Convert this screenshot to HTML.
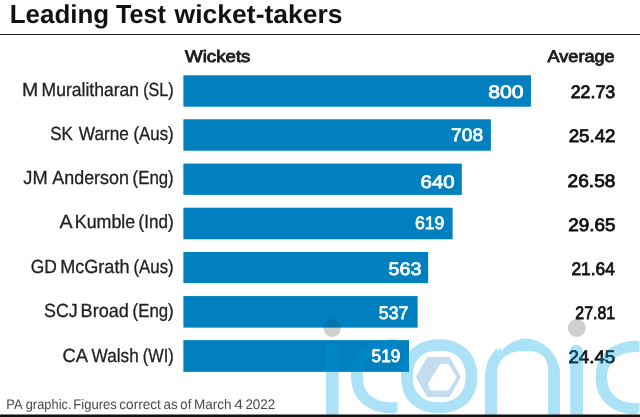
<!DOCTYPE html>
<html lang="en"><head><meta charset="utf-8"><title>Leading Test wicket-takers</title>
<style>
html,body{margin:0;padding:0;background:#fff;}
body{width:640px;height:417px;overflow:hidden;font-family:"Liberation Sans",Arial,Helvetica,sans-serif;}
svg{display:block;}
</style></head><body>
<svg width="640" height="417" viewBox="0 0 640 417" font-family="'Liberation Sans', Arial, Helvetica, sans-serif" text-rendering="geometricPrecision">
<defs>
<filter id="mono" x="-20%" y="-20%" width="140%" height="140%" color-interpolation-filters="sRGB">
<feOffset in="SourceGraphic" dx="-1.75" result="l"/><feOffset in="SourceGraphic" dx="1.75" result="r"/>
<feComposite in="l" in2="r" operator="in" result="e"/>
<feOffset in="e" dy="-1.0" result="u"/><feOffset in="e" dy="1.0" result="d"/>
<feMerge><feMergeNode in="u"/><feMergeNode in="d"/><feMergeNode in="e"/></feMerge>
</filter>
<clipPath id="cw"><rect x="0" y="336" width="640" height="78.5"/></clipPath>
<clipPath id="ci1"><rect x="325.5" y="343" width="13.5" height="80" rx="6.5"/></clipPath>
<clipPath id="ci2"><rect x="569.5" y="345" width="13.8" height="80" rx="6.5"/></clipPath>
<clipPath id="cc1"><rect x="345" y="336" width="52.5" height="78.5" rx="5"/></clipPath>
<clipPath id="cc2"><rect x="590" y="336" width="49.5" height="78.5" rx="5"/></clipPath>
<clipPath id="cn"><rect x="485" y="338" width="75.4" height="120" rx="37.7"/></clipPath>
</defs>
<rect width="640" height="417" fill="#fff"/>
<g fill="#0080be">
<rect x="183.5" y="75.40" width="347.40" height="31.20"/>
<rect x="183.5" y="119.40" width="307.30" height="31.20"/>
<rect x="183.5" y="163.70" width="278.20" height="31.10"/>
<rect x="183.5" y="207.80" width="269.00" height="31.40"/>
<rect x="183.5" y="252.00" width="244.60" height="31.10"/>
<rect x="183.5" y="296.10" width="234.00" height="31.40"/>
<rect x="183.5" y="340.20" width="225.50" height="31.60"/>
</g>
<text y="23.40" font-size="26" font-weight="bold" fill="#111"><tspan x="9.76" textLength="99.47" lengthAdjust="spacingAndGlyphs">Leading</tspan> <tspan x="115.98" textLength="49.82" lengthAdjust="spacingAndGlyphs">Test</tspan> <tspan x="174.58" textLength="168.01" lengthAdjust="spacingAndGlyphs">wicket-takers</tspan></text>
<rect x="0" y="34" width="640" height="1" fill="#222"/>
<text y="61.68" font-size="16.7" fill="#1c1c1c" stroke="#1c1c1c" stroke-width="0.85"><tspan x="185.09" textLength="65.36" lengthAdjust="spacingAndGlyphs">Wickets</tspan></text>
<text y="61.68" font-size="16.7" fill="#1c1c1c" stroke="#1c1c1c" stroke-width="0.85"><tspan x="547.59" textLength="67.09" lengthAdjust="spacingAndGlyphs">Average</tspan></text>
<text y="95.95" font-size="19" fill="#222" stroke="#222" stroke-width="0.3"><tspan x="22.06" textLength="16.19" lengthAdjust="spacingAndGlyphs">M</tspan> <tspan x="41.61" textLength="97.37" lengthAdjust="spacingAndGlyphs">Muralitharan</tspan> <tspan x="143.15" textLength="30.50" lengthAdjust="spacingAndGlyphs">(SL)</tspan></text>
<text y="97.50" font-size="18.1" fill="#111" stroke="#111" stroke-width="0.8"><tspan x="570.71" textLength="44.47" lengthAdjust="spacingAndGlyphs">22.73</tspan></text>
<text y="139.95" font-size="19" fill="#222" stroke="#222" stroke-width="0.3"><tspan x="50.28" textLength="22.66" lengthAdjust="spacingAndGlyphs">SK</tspan> <tspan x="78.78" textLength="50.13" lengthAdjust="spacingAndGlyphs">Warne</tspan> <tspan x="133.51" textLength="40.19" lengthAdjust="spacingAndGlyphs">(Aus)</tspan></text>
<text y="142.20" font-size="18.1" fill="#111" stroke="#111" stroke-width="0.8"><tspan x="568.66" textLength="46.88" lengthAdjust="spacingAndGlyphs">25.42</tspan></text>
<text y="184.40" font-size="19" fill="#222" stroke="#222" stroke-width="0.3"><tspan x="23.37" textLength="24.28" lengthAdjust="spacingAndGlyphs">JM</tspan> <tspan x="52.32" textLength="76.60" lengthAdjust="spacingAndGlyphs">Anderson</tspan> <tspan x="132.61" textLength="41.08" lengthAdjust="spacingAndGlyphs">(Eng)</tspan></text>
<text y="186.50" font-size="18.1" fill="#111" stroke="#111" stroke-width="0.8"><tspan x="567.64" textLength="47.79" lengthAdjust="spacingAndGlyphs">26.58</tspan></text>
<text y="228.40" font-size="19" fill="#222" stroke="#222" stroke-width="0.3"><tspan x="59.51" textLength="11.97" lengthAdjust="spacingAndGlyphs">A</tspan> <tspan x="74.79" textLength="60.45" lengthAdjust="spacingAndGlyphs">Kumble</tspan> <tspan x="138.59" textLength="35.12" lengthAdjust="spacingAndGlyphs">(Ind)</tspan></text>
<text y="230.70" font-size="18.1" fill="#111" stroke="#111" stroke-width="0.8"><tspan x="568.15" textLength="47.24" lengthAdjust="spacingAndGlyphs">29.65</tspan></text>
<text y="272.65" font-size="19" fill="#222" stroke="#222" stroke-width="0.3"><tspan x="30.77" textLength="26.11" lengthAdjust="spacingAndGlyphs">GD</tspan> <tspan x="60.17" textLength="69.36" lengthAdjust="spacingAndGlyphs">McGrath</tspan> <tspan x="133.51" textLength="40.19" lengthAdjust="spacingAndGlyphs">(Aus)</tspan></text>
<text y="274.70" font-size="18.1" fill="#111" stroke="#111" stroke-width="0.8"><tspan x="571.43" textLength="43.38" lengthAdjust="spacingAndGlyphs">21.64</tspan></text>
<text y="317.05" font-size="19" fill="#222" stroke="#222" stroke-width="0.3"><tspan x="44.04" textLength="33.74" lengthAdjust="spacingAndGlyphs">SCJ</tspan> <tspan x="80.56" textLength="48.35" lengthAdjust="spacingAndGlyphs">Broad</tspan> <tspan x="132.61" textLength="41.08" lengthAdjust="spacingAndGlyphs">(Eng)</tspan></text>
<text y="319.20" font-size="18.1" fill="#111" stroke="#111" stroke-width="0.8"><tspan x="575.30" textLength="39.78" lengthAdjust="spacingAndGlyphs">27.81</tspan></text>
<text y="361.65" font-size="19" fill="#222" stroke="#222" stroke-width="0.3"><tspan x="62.55" textLength="24.53" lengthAdjust="spacingAndGlyphs">CA</tspan> <tspan x="91.58" textLength="47.18" lengthAdjust="spacingAndGlyphs">Walsh</tspan> <tspan x="142.73" textLength="30.93" lengthAdjust="spacingAndGlyphs">(WI)</tspan></text>
<text y="363.20" font-size="18.1" fill="#111" stroke="#111" stroke-width="0.8"><tspan x="568.46" textLength="46.72" lengthAdjust="spacingAndGlyphs">24.45</tspan></text>
<text y="408.80" font-size="13.8" fill="#4a4a4a"><tspan x="6.34" textLength="15.58" lengthAdjust="spacingAndGlyphs">PA</tspan> <tspan x="25.71" textLength="45.87" lengthAdjust="spacingAndGlyphs">graphic.</tspan> <tspan x="73.33" textLength="43.54" lengthAdjust="spacingAndGlyphs">Figures</tspan> <tspan x="119.32" textLength="41.58" lengthAdjust="spacingAndGlyphs">correct</tspan> <tspan x="163.53" textLength="14.15" lengthAdjust="spacingAndGlyphs">as</tspan> <tspan x="180.34" textLength="11.04" lengthAdjust="spacingAndGlyphs">of</tspan> <tspan x="193.99" textLength="37.69" lengthAdjust="spacingAndGlyphs">March</tspan> <tspan x="234.12" textLength="9.16" lengthAdjust="spacingAndGlyphs">4</tspan> <tspan x="245.43" textLength="29.74" lengthAdjust="spacingAndGlyphs">2022</tspan></text>
<g class="watermark" role="img" aria-label="iconic" opacity="0.33" font-family="'DejaVu Sans', 'Liberation Sans', sans-serif" font-size="126.9" fill="#04aaea"><g clip-path="url(#ci1)" filter="url(#mono)"><text transform="translate(307.47,419.00) scale(1.4034,1.0807)">i</text></g><g clip-path="url(#cc1)" filter="url(#mono)"><text transform="translate(340.48,411.40) scale(1.2532,0.9991)">c</text></g><g clip-path="url(#cw)" filter="url(#mono)"><text transform="translate(390.48,411.40) scale(1.2528,0.9991)">o</text></g><g clip-path="url(#cn)" filter="url(#mono)"><text transform="translate(467.62,417.00) scale(1.3558,1.0975)">n</text></g><g clip-path="url(#ci2)" filter="url(#mono)"><text transform="translate(551.77,419.00) scale(1.4034,1.0519)">i</text></g><g clip-path="url(#cc2)" filter="url(#mono)"><text transform="translate(584.88,411.81) scale(1.2532,0.9936)">c</text></g></g>
<path d="M417.6,377.0 L428.0,358.6 L448.7,358.6 L459.1,377.0 L448.7,395.5 L428.0,395.5Z" fill="#c4dcf0" stroke="#c4dcf0" stroke-width="3" stroke-linejoin="round"/>
<path d="M429.4,384.0 L441.2,365.3 L447.6,365.3 L455.0,377.2 L447.6,389.0 L431.3,389.0Z" fill="#fff" stroke="#fff" stroke-width="3" stroke-linejoin="round"/>
<circle cx="332.2" cy="328" r="8.9" fill="#000" opacity="0.19"/>
<circle cx="576.8" cy="328" r="8.9" fill="#000" opacity="0.19"/>
<g fill="#0080be" opacity="0.5">
<rect x="183.5" y="75.40" width="347.40" height="31.20"/>
<rect x="183.5" y="119.40" width="307.30" height="31.20"/>
<rect x="183.5" y="163.70" width="278.20" height="31.10"/>
<rect x="183.5" y="207.80" width="269.00" height="31.40"/>
<rect x="183.5" y="252.00" width="244.60" height="31.10"/>
<rect x="183.5" y="296.10" width="234.00" height="31.40"/>
<rect x="183.5" y="340.20" width="225.50" height="31.60"/>
</g>
<text y="97.83" font-size="18.0" fill="#fff" stroke="#fff" stroke-width="0.75"><tspan x="488.26" textLength="35.30" lengthAdjust="spacingAndGlyphs">800</tspan></text>
<text y="141.12" font-size="18.0" fill="#fff" stroke="#fff" stroke-width="0.75"><tspan x="451.09" textLength="32.07" lengthAdjust="spacingAndGlyphs">708</tspan></text>
<text y="188.03" font-size="18.0" fill="#fff" stroke="#fff" stroke-width="0.75"><tspan x="420.64" textLength="34.09" lengthAdjust="spacingAndGlyphs">640</tspan></text>
<text y="229.32" font-size="18.0" fill="#fff" stroke="#fff" stroke-width="0.75"><tspan x="414.98" textLength="29.38" lengthAdjust="spacingAndGlyphs">619</tspan></text>
<text y="274.52" font-size="18.0" fill="#fff" stroke="#fff" stroke-width="0.75"><tspan x="388.49" textLength="32.91" lengthAdjust="spacingAndGlyphs">563</tspan></text>
<text y="319.32" font-size="18.0" fill="#fff" stroke="#fff" stroke-width="0.75"><tspan x="378.87" textLength="29.55" lengthAdjust="spacingAndGlyphs">537</tspan></text>
<text y="362.43" font-size="18.0" fill="#fff" stroke="#fff" stroke-width="0.75"><tspan x="371.58" textLength="28.76" lengthAdjust="spacingAndGlyphs">519</tspan></text>
<rect x="0" y="414.5" width="640" height="3" fill="#111"/>
</svg>
</body></html>
